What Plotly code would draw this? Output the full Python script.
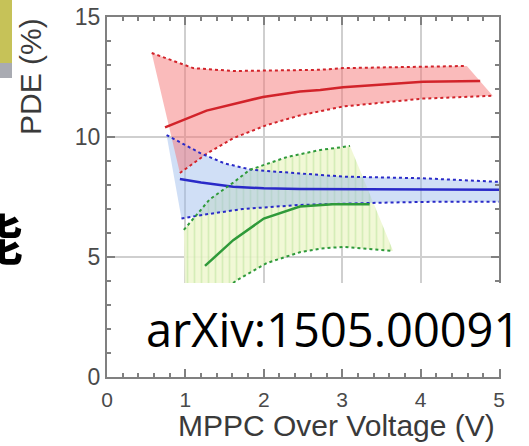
import plotly.graph_objects as go

# ---- data ----
red_center_x = [0.74, 1.27, 1.99, 2.46, 2.72, 3.01, 4.03, 4.76]
red_center_y = [10.40, 11.10, 11.67, 11.90, 11.96, 12.07, 12.30, 12.33]
red_upper_x = [0.57, 1.10, 1.61, 2.72, 3.01, 4.03, 4.59]
red_upper_y = [13.50, 12.87, 12.75, 12.80, 12.87, 12.92, 12.96]
red_lower_x = [0.93, 1.27, 1.61, 2.04, 2.46, 3.01, 4.03, 4.92]
red_lower_y = [8.50, 9.30, 9.95, 10.50, 10.90, 11.27, 11.60, 11.72]

blue_center_x = [0.93, 1.20, 1.61, 2.00, 2.46, 3.23, 4.00, 5.00]
blue_center_y = [8.25, 8.10, 7.93, 7.86, 7.83, 7.82, 7.80, 7.80]
blue_upper_x = [0.76, 1.19, 1.50, 1.85, 2.72, 3.01, 4.03, 5.00]
blue_upper_y = [10.08, 9.33, 8.90, 8.63, 8.42, 8.35, 8.28, 8.13]
blue_lower_x = [0.95, 1.15, 1.73, 2.46, 3.44, 4.16, 5.00]
blue_lower_y = [6.60, 6.72, 7.00, 7.17, 7.26, 7.30, 7.30]

green_center_x = [1.25, 1.61, 2.00, 2.46, 2.88, 3.35]
green_center_y = [4.63, 5.70, 6.60, 7.10, 7.20, 7.20]
green_upper_x = [0.98, 1.19, 1.31, 1.61, 1.82, 2.30, 2.72, 3.01, 3.10]
green_upper_y = [6.13, 6.96, 7.40, 8.10, 8.63, 9.17, 9.46, 9.58, 9.63]
green_lower_x = [1.00, 1.30, 1.66, 2.04, 2.46, 2.72, 3.01, 3.65]
green_lower_y = [2.40, 3.20, 4.04, 4.75, 5.20, 5.35, 5.42, 5.25]

x_ticks = [0, 1, 2, 3, 4, 5]
y_ticks = [0, 5, 10, 15]

# ---- figure ----
W, H = 529, 446
L, R, T, B = 107, 30, 17, 69
PW, PH = W - L - R, H - T - B


def px(xp):
    return (xp - L) / PW


def py(yp):
    return (H - B - yp) / PH


fig = go.Figure()


def band(ux, uy, lx, ly, **kw):
    fig.add_trace(go.Scatter(x=ux + lx[::-1], y=uy + ly[::-1], mode="lines",
                             fill="toself", line=dict(width=0), hoverinfo="skip",
                             showlegend=False, **kw))


band(green_upper_x, green_upper_y, green_lower_x, green_lower_y,
     fillcolor="rgba(236,246,205,0.9)",
     fillpattern=dict(shape="|", fgcolor="rgba(170,220,140,0.8)",
                      bgcolor="rgba(240,248,210,0.9)", size=7, solidity=0.25))
band(blue_upper_x, blue_upper_y, blue_lower_x, blue_lower_y,
     fillcolor="rgba(150,185,235,0.45)")
band(red_upper_x, red_upper_y, red_lower_x, red_lower_y,
     fillcolor="rgba(246,120,120,0.5)")


def line(x, y, color, dash, width):
    fig.add_trace(go.Scatter(x=x, y=y, mode="lines",
                             line=dict(color=color, dash=dash, width=width),
                             showlegend=False, hoverinfo="skip"))


for (cx, cy, ux, uy, lx, ly, col) in [
    (red_center_x, red_center_y, red_upper_x, red_upper_y, red_lower_x, red_lower_y, "#d2232a"),
    (blue_center_x, blue_center_y, blue_upper_x, blue_upper_y, blue_lower_x, blue_lower_y, "#2a2ac8"),
    (green_center_x, green_center_y, green_upper_x, green_upper_y, green_lower_x, green_lower_y, "#2f9a3a"),
]:
    line(ux, uy, col, "dot", 2)
    line(lx, ly, col, "dot", 2)
    line(cx, cy, col, "solid", 2.5)

# invisible trace so the top/right tick axes are drawn
fig.add_trace(go.Scatter(x=[0], y=[0], xaxis="x2", yaxis="y2", mode="markers",
                         marker=dict(opacity=0), showlegend=False, hoverinfo="skip"))

tick_common = dict(ticks="inside", ticklen=8, tickwidth=1.5, tickcolor="#808080")
axis_line = dict(showline=True, linecolor="#808080", linewidth=2, mirror=True,
                 showgrid=True, gridcolor="#cfcfcf", gridwidth=1.5, zeroline=False)

fig.update_layout(
    xaxis=dict(range=[0, 5], tickvals=x_ticks, ticktext=[str(v) for v in x_ticks],
               minor=dict(dtick=0.2, tick0=0, ticks="inside", ticklen=4,
                          tickcolor="#808080", showgrid=False),
               tickfont=dict(family="Liberation Sans", color="#4a4a4a", size=21),
               ticklabelstandoff=3, **axis_line, **tick_common),
    yaxis=dict(range=[0, 15], tickvals=y_ticks, ticktext=[str(v) for v in y_ticks],
               minor=dict(dtick=1, tick0=0, ticks="inside", ticklen=4,
                          tickcolor="#808080", showgrid=False),
               tickfont=dict(family="Liberation Sans", color="#4a4a4a", size=23),
               **axis_line, **tick_common),
    xaxis2=dict(range=[0, 5], overlaying="x", side="top", anchor="y2",
                tickvals=x_ticks, showticklabels=False, showgrid=False, zeroline=False,
                showline=False,
                minor=dict(dtick=0.2, tick0=0, ticks="inside", ticklen=4,
                           tickcolor="#808080", showgrid=False),
                **tick_common),
    yaxis2=dict(range=[0, 15], overlaying="y", side="right", anchor="x2",
                tickvals=y_ticks, showticklabels=False, showgrid=False, zeroline=False,
                showline=False,
                minor=dict(dtick=1, tick0=0, ticks="inside", ticklen=4,
                           tickcolor="#808080", showgrid=False),
                **tick_common),
)

shapes = [
    # white label box
    dict(type="rect", xref="paper", yref="paper", x0=px(125), x1=px(535),
         y0=py(369), y1=py(283), fillcolor="white", line=dict(width=0), layer="above"),
    # slide decoration top-left
    dict(type="rect", xref="paper", yref="paper", x0=px(-5), x1=px(12),
         y0=py(63), y1=py(-5), fillcolor="#c6c258", line=dict(width=0), layer="above"),
    dict(type="rect", xref="paper", yref="paper", x0=px(-5), x1=px(12),
         y0=py(78), y1=py(63), fillcolor="#a9abb2", line=dict(width=0), layer="above"),
]

annotations = [
    dict(text="PDE (%)", textangle=-90, xref="paper", yref="paper", x=px(31), y=py(77),
         xanchor="center", yanchor="middle", showarrow=False,
         font=dict(family="Liberation Sans", size=30, color="#3a3a3a")),
    dict(text="MPPC Over Voltage (V)", xref="paper", yref="paper", x=px(336), y=py(425),
         xanchor="center", yanchor="middle", showarrow=False,
         font=dict(family="Liberation Sans", size=30, color="#3a3a3a")),
    dict(text="arXiv:1505.00091", xref="paper", yref="paper", x=px(333), y=py(329),
         xanchor="center", yanchor="middle", showarrow=False,
         font=dict(family="Open Sans", size=47, color="black")),
    dict(text="<b>能</b>", xref="paper", yref="paper", x=px(-4), y=py(236),
         xanchor="center", yanchor="middle", showarrow=False,
         font=dict(family="Noto Sans CJK SC", size=54, color="black")),
]

fig.update_layout(width=W, height=H, margin=dict(l=L, r=R, t=T, b=B, autoexpand=False),
                  paper_bgcolor="white", plot_bgcolor="white",
                  shapes=shapes, annotations=annotations, showlegend=False)

fig.write_html("out.html")
